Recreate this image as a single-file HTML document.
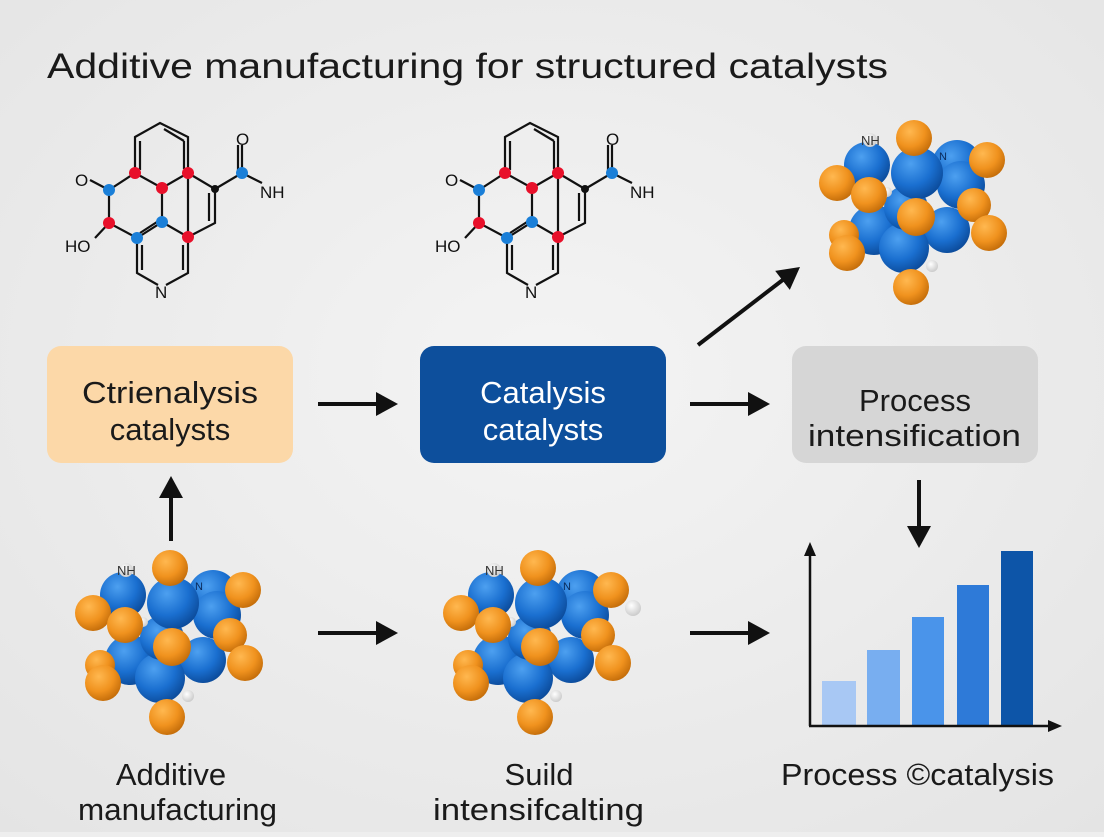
<!DOCTYPE html>
<html><head><meta charset="utf-8"><style>
html,body{margin:0;padding:0;}
body{width:1104px;height:832px;overflow:hidden;background:#eeeeee;font-family:"Liberation Sans",sans-serif;}
</style></head><body>
<svg width="1104" height="832" xmlns="http://www.w3.org/2000/svg" font-family="Liberation Sans, sans-serif">
<defs>
<radialGradient id="gb" cx="0.38" cy="0.32" r="0.7"><stop offset="0" stop-color="#4da0f0"/><stop offset="0.6" stop-color="#1a6fd0"/><stop offset="1" stop-color="#0c4c9c"/></radialGradient>
<radialGradient id="go" cx="0.38" cy="0.32" r="0.7"><stop offset="0" stop-color="#ffb850"/><stop offset="0.6" stop-color="#f0921e"/><stop offset="1" stop-color="#c56e0a"/></radialGradient>
<radialGradient id="gw" cx="0.4" cy="0.35" r="0.7"><stop offset="0" stop-color="#ffffff"/><stop offset="1" stop-color="#c8c8c8"/></radialGradient>
<radialGradient id="bg" cx="0.5" cy="0.45" r="0.75"><stop offset="0" stop-color="#f4f4f4"/><stop offset="1" stop-color="#e4e4e4"/></radialGradient>
<g id="mol" stroke="#111" stroke-width="2.2" fill="none">
<path d="M135,137 L160,123 L188,137 L188,173 L162,188 L135,173 Z"/>
<path d="M140,141 L140,170 M164,129 L184,141 M184,141 L184,169"/>
<path d="M135,173 L109,190 L109,223 L137,238 L162,222 L162,188 M162,222 L188,237 L188,173 M188,173 L215,189 L215,223 L188,237 M209,193 L209,221"/>
<path d="M109,190 L90,180 M109,223 L95,238 M140,233 L160,220 M215,189 L242,173 L242,145 M238,173 L238,145 M242,173 L262,183"/>
<path d="M137,238 L137,273 L158,285 M166,285 L188,273 L188,237 M142,245 L142,270 M183,245 L183,270"/>
<g stroke="none">
<circle cx="135" cy="173" r="6" fill="#e8102a"/><circle cx="188" cy="173" r="6" fill="#e8102a"/><circle cx="162" cy="188" r="6" fill="#e8102a"/>
<circle cx="109" cy="223" r="6" fill="#e8102a"/><circle cx="188" cy="237" r="6" fill="#e8102a"/>
<circle cx="109" cy="190" r="6" fill="#1a7fd8"/><circle cx="162" cy="222" r="6" fill="#1a7fd8"/><circle cx="137" cy="238" r="6" fill="#1a7fd8"/><circle cx="242" cy="173" r="6" fill="#1a7fd8"/>
<circle cx="215" cy="189" r="4" fill="#111"/>
</g>
</g>
<g id="clu">
<circle cx="123" cy="595" r="23" fill="url(#gb)"/>
<circle cx="213" cy="595" r="25" fill="url(#gb)"/>
<circle cx="217" cy="615" r="24" fill="url(#gb)"/>
<circle cx="130" cy="660" r="25" fill="url(#gb)"/>
<circle cx="203" cy="660" r="23" fill="url(#gb)"/>
<circle cx="160" cy="678" r="25" fill="url(#gb)"/>
<circle cx="162" cy="638" r="22" fill="url(#gb)"/>
<circle cx="173" cy="603" r="26" fill="url(#gb)"/>
<circle cx="188" cy="696" r="6" fill="url(#gw)"/>
<circle cx="143" cy="622" r="5" fill="url(#gw)"/>
<circle cx="170" cy="568" r="18" fill="url(#go)"/>
<circle cx="243" cy="590" r="18" fill="url(#go)"/>
<circle cx="93" cy="613" r="18" fill="url(#go)"/>
<circle cx="125" cy="625" r="18" fill="url(#go)"/>
<circle cx="230" cy="635" r="17" fill="url(#go)"/>
<circle cx="245" cy="663" r="18" fill="url(#go)"/>
<circle cx="100" cy="665" r="15" fill="url(#go)"/>
<circle cx="103" cy="683" r="18" fill="url(#go)"/>
<circle cx="172" cy="647" r="19" fill="url(#go)"/>
<circle cx="167" cy="717" r="18" fill="url(#go)"/>
<circle cx="126" cy="570" r="7" fill="url(#gw)"/>
</g>
</defs>
<rect width="1104" height="832" fill="url(#bg)"/>
<text x="47" y="78" font-size="35" fill="#1a1a1a" textLength="841" lengthAdjust="spacingAndGlyphs">Additive manufacturing for structured catalysts</text>

<use href="#mol"/>
<text x="75" y="186" font-size="17" fill="#111">O</text>
<text x="65" y="252" font-size="17" fill="#111">HO</text>
<text x="236" y="145" font-size="17" fill="#111">O</text>
<text x="260" y="198" font-size="17" fill="#111">NH</text>
<text x="155" y="298" font-size="17" fill="#111">N</text>
<g transform="translate(370,0)"><use href="#mol"/>
<text x="75" y="186" font-size="17" fill="#111">O</text>
<text x="65" y="252" font-size="17" fill="#111">HO</text>
<text x="236" y="145" font-size="17" fill="#111">O</text>
<text x="260" y="198" font-size="17" fill="#111">NH</text>
<text x="155" y="298" font-size="17" fill="#111">N</text></g>

<use href="#clu"/>
<text x="117" y="575" font-size="13" fill="#333">NH</text><text x="195" y="590" font-size="11" fill="#0a2a5a">N</text>
<g transform="translate(368,0)"><use href="#clu"/><text x="117" y="575" font-size="13" fill="#333">NH</text><text x="195" y="590" font-size="11" fill="#0a2a5a">N</text></g>
<circle cx="633" cy="608" r="8" fill="url(#gw)"/>
<g transform="translate(744,-430)"><use href="#clu"/><text x="117" y="575" font-size="13" fill="#333">NH</text><text x="195" y="590" font-size="11" fill="#0a2a5a">N</text></g>

<rect x="47" y="346" width="246" height="117" rx="14" fill="#fcd8a8"/>
<text x="82" y="403" font-size="31" fill="#1a1a1a" textLength="176" lengthAdjust="spacingAndGlyphs">Ctrienalysis</text>
<text x="170" y="440" font-size="31" fill="#1a1a1a" text-anchor="middle">catalysts</text>
<rect x="420" y="346" width="246" height="117" rx="14" fill="#0d4f9c"/>
<text x="543" y="403" font-size="31" fill="#fff" text-anchor="middle">Catalysis</text>
<text x="543" y="440" font-size="31" fill="#fff" text-anchor="middle">catalysts</text>
<rect x="792" y="346" width="246" height="117" rx="14" fill="#d6d6d6"/>
<text x="915" y="411" font-size="31" fill="#1a1a1a" text-anchor="middle">Process</text>
<text x="808" y="446" font-size="31" fill="#1a1a1a" textLength="213" lengthAdjust="spacingAndGlyphs">intensification</text>

<g stroke="#111" stroke-width="4">
<line x1="318" y1="404" x2="380" y2="404"/>
<line x1="690" y1="404" x2="752" y2="404"/>
<line x1="318" y1="633" x2="380" y2="633"/>
<line x1="690" y1="633" x2="752" y2="633"/>
<line x1="171" y1="541" x2="171" y2="495"/>
<line x1="919" y1="480" x2="919" y2="528"/>
<line x1="698" y1="345" x2="784" y2="279"/>
</g>
<g fill="#111">
<path d="M376,392 L398,404 L376,416 Z"/>
<path d="M748,392 L770,404 L748,416 Z"/>
<path d="M376,621 L398,633 L376,645 Z"/>
<path d="M748,621 L770,633 L748,645 Z"/>
<path d="M159,498 L171,476 L183,498 Z"/>
<path d="M907,526 L919,548 L931,526 Z"/>
<path d="M800,267 L789.8,289.9 L775.2,270.9 Z"/>
</g>

<rect x="822" y="681" width="34" height="44" fill="#a8c8f4"/>
<rect x="867" y="650" width="33" height="75" fill="#78aef0"/>
<rect x="912" y="617" width="32" height="108" fill="#4a94ea"/>
<rect x="957" y="585" width="32" height="140" fill="#2e7ad8"/>
<rect x="1001" y="551" width="32" height="174" fill="#0d55a8"/>
<g stroke="#111" stroke-width="2.5"><line x1="810" y1="726" x2="810" y2="552"/><line x1="809" y1="726" x2="1052" y2="726"/></g>
<path d="M804,556 L810,542 L816,556 Z" fill="#111"/><path d="M1048,720 L1062,726 L1048,732 Z" fill="#111"/>

<text x="171" y="785" font-size="31" fill="#1a1a1a" text-anchor="middle">Additive</text>
<text x="78" y="820" font-size="31" fill="#1a1a1a" textLength="199" lengthAdjust="spacingAndGlyphs">manufacturing</text>
<text x="539" y="785" font-size="31" fill="#1a1a1a" text-anchor="middle">Suild</text>
<text x="433" y="820" font-size="31" fill="#1a1a1a" textLength="211" lengthAdjust="spacingAndGlyphs">intensifcalting</text>
<text x="781" y="785" font-size="31" fill="#1a1a1a" textLength="273" lengthAdjust="spacingAndGlyphs">Process ©catalysis</text>
</svg>
</body></html>
